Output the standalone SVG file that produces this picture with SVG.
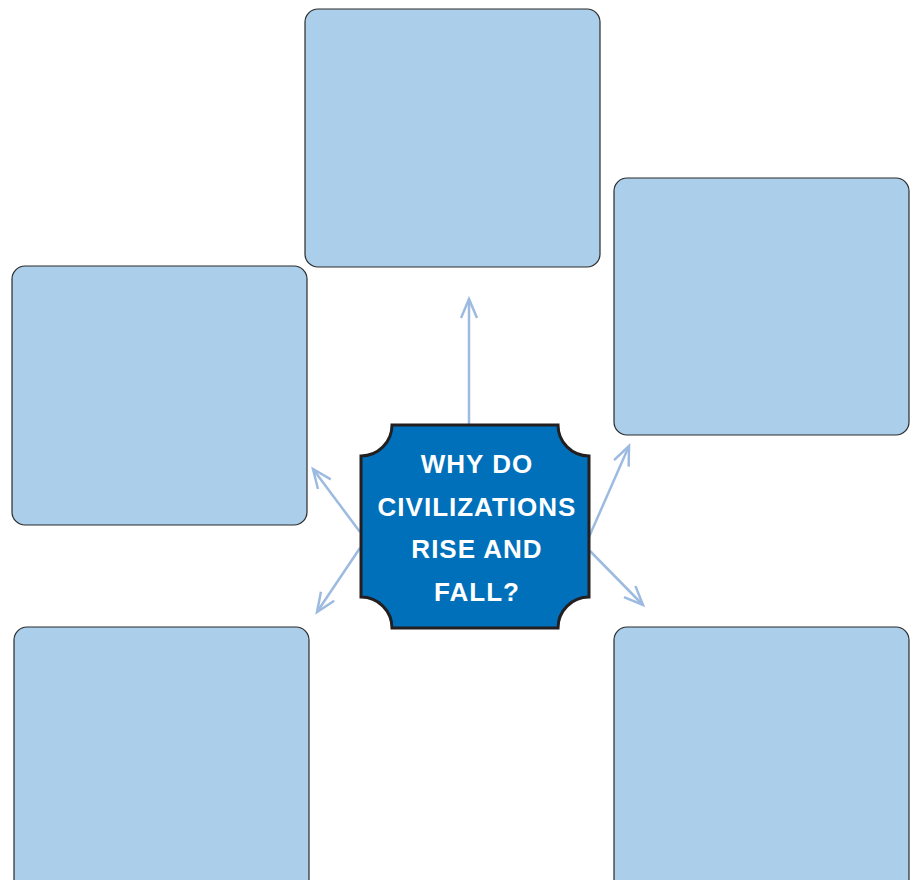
<svg xmlns="http://www.w3.org/2000/svg" width="912" height="880" viewBox="0 0 912 880">
<defs>
<style>
.box{fill:#abcfeb;stroke:#2b2b2b;stroke-width:1.2}
.hub{fill:#0070bb;stroke:#231f20;stroke-width:3}
.t{font-family:"Liberation Sans",Arial,sans-serif;font-weight:bold;font-size:26px;fill:#fff;text-anchor:middle;letter-spacing:1px}
.c{stroke:#9dbbe0;stroke-width:2.5;fill:none;marker-end:url(#ah)}
</style>
<marker id="ah" markerWidth="24" markerHeight="20" refX="20" refY="9" orient="auto" markerUnits="userSpaceOnUse">
<path d="M1,1 L20,9 L1,17" fill="none" stroke="#9dbbe0" stroke-width="2.5"/>
</marker>
</defs>
<rect width="912" height="880" fill="#fff"/>
<g id="connectors">
<line class="c" x1="469" y1="425" x2="469" y2="299"/>
<line class="c" x1="360" y1="532" x2="313" y2="469"/>
<line class="c" x1="360" y1="548" x2="317" y2="612"/>
<line class="c" x1="589" y1="537" x2="629" y2="446"/>
<line class="c" x1="590" y1="551" x2="643" y2="605"/>
</g>
<g id="box-top"><rect class="box" x="305" y="9" width="295" height="258" rx="13"/></g>
<g id="box-right-upper"><rect class="box" x="614" y="178" width="295" height="257" rx="13"/></g>
<g id="box-left-upper"><rect class="box" x="12" y="266" width="295" height="259" rx="13"/></g>
<g id="box-left-lower"><rect class="box" x="14" y="627" width="295" height="270" rx="13"/></g>
<g id="box-right-lower"><rect class="box" x="614" y="627" width="295" height="270" rx="13"/></g>
<g id="hub">
<path class="hub" d="M392,425 L558,425 A31,31 0 0 0 589,456 L589,597 A31,31 0 0 0 558,628 L392,628 A31,31 0 0 0 361,597 L361,456 A31,31 0 0 0 392,425 Z"/>
<text class="t" x="477" y="473">WHY DO</text>
<text class="t" x="477" y="516">CIVILIZATIONS</text>
<text class="t" x="477" y="558">RISE AND</text>
<text class="t" x="477" y="601">FALL?</text>
</g>
</svg>
